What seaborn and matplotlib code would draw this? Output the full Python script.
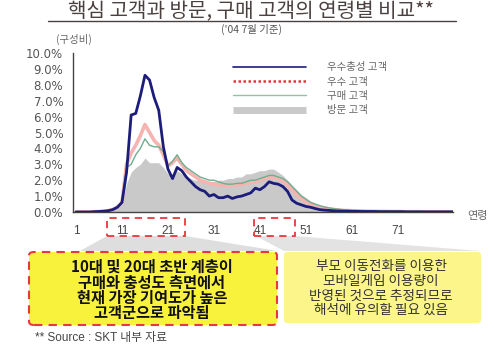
import numpy as np
import pandas as pd
import matplotlib
matplotlib.use("Agg")
import matplotlib.pyplot as plt
import seaborn as sns
from matplotlib.patches import Polygon, FancyBboxPatch, Rectangle
from matplotlib.lines import Line2D

# ---- data (percent, by age 1..83) ----
ages = list(range(1, 84))

loyal = [0.0, 0.0, 0.0, 0.0, 0.02, 0.03, 0.05, 0.08, 0.15, 0.3,
         0.6, 2.5, 6.1, 6.2, 7.3, 8.6, 8.3, 7.2, 6.4, 4.1,
         2.7, 2.1, 2.8, 2.6, 2.2, 1.9, 1.6, 1.4, 1.3, 1.0,
         1.1, 0.9, 0.9, 1.0, 0.85, 0.95, 1.0, 1.1, 1.2, 1.5,
         1.4, 1.6, 1.9, 1.8, 1.75, 1.6, 1.3, 0.75, 0.55, 0.45,
         0.35, 0.3, 0.22, 0.15, 0.12, 0.1, 0.08, 0.06, 0.05, 0.05,
         0.04, 0.04, 0.03, 0.03, 0.03, 0.03, 0.02, 0.02, 0.02, 0.02,
         0.02, 0.02, 0.01, 0.01, 0.01, 0.01, 0.01, 0.01, 0.01, 0.01,
         0.01, 0.01, 0.01]

excellent = [0.0, 0.0, 0.0, 0.0, 0.02, 0.03, 0.05, 0.08, 0.15, 0.3,
             0.6, 3.0, 3.7, 4.2, 4.8, 5.5, 5.0, 4.5, 4.2, 3.6,
             2.9, 3.1, 3.4, 3.0, 2.6, 2.4, 2.2, 2.0, 1.9, 1.8,
             1.75, 1.7, 1.7, 1.65, 1.7, 1.7, 1.75, 1.8, 1.85, 1.9,
             2.0, 2.1, 2.2, 2.2, 2.1, 1.95, 1.7, 1.4, 1.1, 0.85,
             0.65, 0.5, 0.4, 0.3, 0.25, 0.2, 0.16, 0.13, 0.1, 0.09,
             0.08, 0.07, 0.06, 0.05, 0.05, 0.04, 0.04, 0.04, 0.03, 0.03,
             0.03, 0.02, 0.02, 0.02, 0.02, 0.02, 0.01, 0.01, 0.01, 0.01,
             0.01, 0.01, 0.01]

buyer = [0.0, 0.0, 0.0, 0.0, 0.02, 0.03, 0.05, 0.08, 0.15, 0.3,
         0.6, 2.8, 3.0, 3.6, 4.0, 4.6, 4.2, 4.1, 4.1, 3.8,
         2.9, 3.2, 3.6, 3.1, 2.8, 2.6, 2.4, 2.2, 2.1, 2.0,
         2.0, 1.9, 1.8, 1.75, 1.75, 1.8, 1.8, 1.9, 2.0, 2.0,
         2.1, 2.2, 2.3, 2.3, 2.2, 2.1, 1.9, 1.6, 1.3, 1.0,
         0.8, 0.6, 0.5, 0.4, 0.32, 0.26, 0.21, 0.18, 0.15, 0.13,
         0.11, 0.1, 0.09, 0.08, 0.07, 0.06, 0.06, 0.05, 0.05, 0.04,
         0.04, 0.04, 0.03, 0.03, 0.03, 0.03, 0.02, 0.02, 0.02, 0.02,
         0.02, 0.02, 0.01]

visitor = [0.02, 0.02, 0.02, 0.03, 0.04, 0.05, 0.07, 0.1, 0.15, 0.25,
           0.5, 1.8, 2.5, 2.8, 3.0, 3.4, 3.1, 3.1, 3.1, 2.8,
           2.4, 2.4, 2.6, 2.4, 2.2, 2.1, 2.0, 2.0, 2.0, 1.9,
           1.9, 2.0, 2.0, 2.1, 2.1, 2.2, 2.2, 2.4, 2.4, 2.5,
           2.6, 2.6, 2.7, 2.7, 2.5, 2.3, 2.0, 1.7, 1.4, 1.1,
           0.9, 0.7, 0.55, 0.45, 0.35, 0.3, 0.25, 0.2, 0.17, 0.15,
           0.13, 0.12, 0.11, 0.1, 0.09, 0.08, 0.08, 0.07, 0.07, 0.06,
           0.05, 0.05, 0.04, 0.04, 0.04, 0.03, 0.03, 0.03, 0.02, 0.02,
           0.02, 0.02, 0.01]

series_names = ["우수충성 고객", "우수 고객", "구매 고객", "방문 고객"]
xtick_vals = [1, 11, 21, 31, 41, 51, 61, 71]
ytick_vals = [0, 1, 2, 3, 4, 5, 6, 7, 8, 9, 10]

W, H = 501, 346


def fx(x):
    return x / W


def fy(y):
    return 1 - y / H


sns.set_style("white")
plt.rcParams["font.family"] = ["Noto Sans CJK KR", "DejaVu Sans"]
latin = ["Liberation Sans", "Noto Sans CJK KR"]

fig = plt.figure(figsize=(W / 100, H / 100), dpi=100)
ax = fig.add_axes([fx(73), fy(212), fx(453) - fx(73), fy(53) - fy(212)])

df = pd.DataFrame({"age": ages, "loyal": loyal, "excellent": excellent,
                   "buyer": buyer, "visitor": visitor})

ax.fill_between(df["age"], df["visitor"], color="#c9c9c9", lw=0, zorder=1)
sns.lineplot(data=df, x="age", y="excellent", ax=ax, color="#f6b3b0", lw=2.6, zorder=2)
sns.lineplot(data=df, x="age", y="buyer", ax=ax, color="#6fae8e", lw=1.0, zorder=3)
sns.lineplot(data=df, x="age", y="loyal", ax=ax, color="#1c1c7a", lw=2.0, zorder=4)

ax.set_xlim(0.35, 83)
ax.set_ylim(0, 10)
ax.set_xticks(xtick_vals)
ax.set_xticklabels([str(v) for v in xtick_vals], fontsize=8.5, color="#444444",
                   family=latin)
ax.set_yticks(ytick_vals)
ax.set_yticklabels([f"{v:.1f}%" for v in ytick_vals], fontsize=8.5, color="#555555",
                   family=["DejaVu Sans"])
ax.tick_params(axis="x", length=0, pad=9)
ax.tick_params(axis="y", length=4, width=0.8, color="#444444", direction="out", pad=3)
ax.set_xlabel("")
ax.set_ylabel("")
for s in ["top", "right"]:
    ax.spines[s].set_visible(False)
for s in ["left", "bottom"]:
    ax.spines[s].set_color("#444444")
    ax.spines[s].set_linewidth(1.0)

# legend
handles = [Line2D([], [], color="#1c1c7a", lw=1.2),
           Line2D([], [], color="#e8323a", lw=1.8, ls=(0, (1, 1))),
           Line2D([], [], color="#8cc4aa", lw=1.0),
           Line2D([], [], color="#c9c9c9", lw=5, solid_capstyle="butt")]
fig.legend(handles, series_names, loc="upper left", bbox_to_anchor=(fx(228), fy(57)),
           frameon=False, fontsize=7.5, handlelength=7.0, handletextpad=2.0,
           labelspacing=0.42, borderpad=0, labelcolor="#666666")

# titles
fig.text(fx(251), fy(12), "핵심 고객과 방문, 구매 고객의 연령별 비교**", ha="center",
         va="center", fontsize=14.5, color="#4a4040")
fig.add_artist(Line2D([fx(48), fx(456)], [fy(21), fy(21)], color="#4a4040", lw=1.0))
fig.text(fx(252), fy(29), "('04 7월 기준)", ha="center", va="center", fontsize=7.5,
         color="#555555")
fig.text(fx(74), fy(39), "(구성비)", ha="center", va="center", fontsize=7.5,
         color="#666666")
fig.text(fx(478), fy(216), "연령", ha="center", va="center", fontsize=8,
         color="#666666")

# callout wedges
fig.add_artist(Polygon([(fx(107), fy(236)), (fx(185), fy(236)), (fx(278), fy(251)),
                        (fx(80), fy(251))], closed=True, transform=fig.transFigure,
                       facecolor="#dedede", edgecolor="none", zorder=0))
fig.add_artist(Polygon([(fx(256), fy(236)), (fx(295), fy(236)), (fx(480), fy(251)),
                        (fx(284), fy(251))], closed=True, transform=fig.transFigure,
                       facecolor="#e3e3e3", edgecolor="none", zorder=0))

# dashed boxes around tick labels
for x0, x1 in [(107, 185), (254, 295)]:
    fig.add_artist(Rectangle((fx(x0), fy(236)), fx(x1) - fx(x0), fy(218) - fy(236),
                             transform=fig.transFigure, fill=False, edgecolor="#e8383d",
                             lw=1.3, ls=(0, (4, 3)), zorder=3))

# yellow boxes
fig.add_artist(FancyBboxPatch((fx(29), fy(325)), fx(277) - fx(29), fy(252) - fy(325),
                              boxstyle="round,pad=0,rounding_size=0.01",
                              transform=fig.transFigure, facecolor="#f8f23c",
                              edgecolor="#e8383d", lw=1.5, ls=(0, (4, 3)), zorder=2))
fig.add_artist(FancyBboxPatch((fx(284), fy(323)), fx(481) - fx(284), fy(252) - fy(323),
                              boxstyle="round,pad=0,rounding_size=0.008",
                              transform=fig.transFigure, facecolor="#fbf58a",
                              edgecolor="none", zorder=2))

left_lines = ["10대 및 20대 초반 계층이", "구매와 충성도 측면에서",
              "현재 가장 기여도가 높은", "고객군으로 파악됨"]
right_lines = ["부모 이동전화를 이용한", "모바일게임 이용량이",
               "반영된 것으로 추정되므로", "해석에 유의할 필요 있음"]
for i, t in enumerate(left_lines):
    fig.text(fx(152), fy(267 + i * 15.3), t, ha="center", va="center", fontsize=11,
             fontweight="bold", style="italic", color="#111111", zorder=5)
for i, t in enumerate(right_lines):
    fig.text(fx(381), fy(266 + i * 14.7), t, ha="center", va="center", fontsize=9.8,
             color="#333333", zorder=5)

fig.text(fx(35), fy(338), "** Source : SKT 내부 자료", ha="left", va="center",
         fontsize=8.5, color="#444444", family=latin)

fig.savefig("out.png", dpi=100)
